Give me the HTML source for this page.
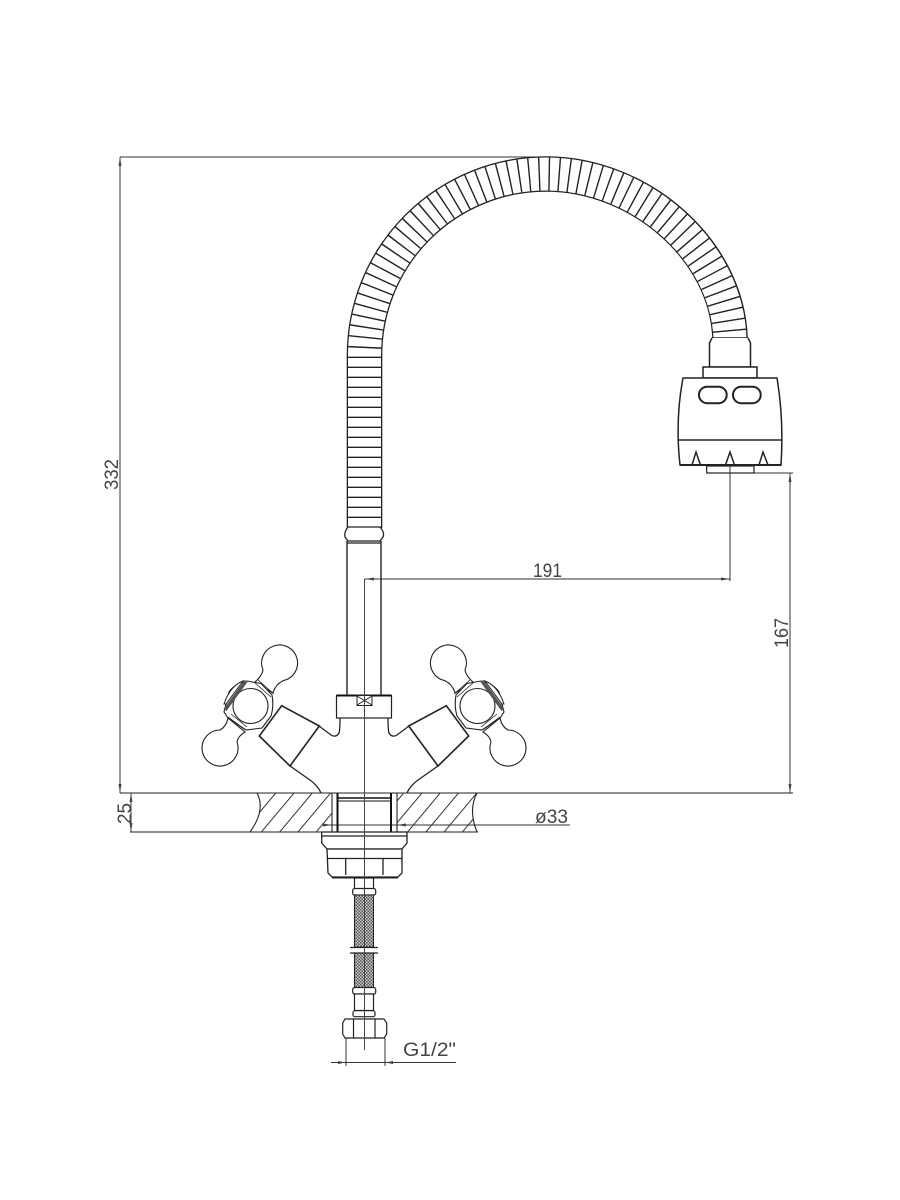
<!DOCTYPE html>
<html>
<head>
<meta charset="utf-8">
<style>
html,body{margin:0;padding:0;background:#fff;}
svg{display:block;}
text{font-family:"Liberation Sans",sans-serif;fill:#444;font-size:19.5px;}
</style>
</head>
<body>
<svg width="900" height="1200" viewBox="0 0 900 1200" xmlns="http://www.w3.org/2000/svg">
<defs>
<pattern id="hatch" patternUnits="userSpaceOnUse" width="14" height="14" patternTransform="rotate(40)">
<line x1="7" y1="0" x2="7" y2="14" stroke="#333" stroke-width="1"/>
</pattern>
<pattern id="braid" patternUnits="userSpaceOnUse" width="3" height="3">
<rect width="3" height="3" fill="#ccc"/>
<rect width="1.5" height="1.5" fill="#555"/>
<rect x="1.5" y="1.5" width="1.5" height="1.5" fill="#555"/>
</pattern>
<g id="handle" fill="#fff" stroke="#222" stroke-width="1.1">
<path d="M255 682 Q262 676 263 670 A18 18 0 1 1 283 680.7 Q276 684 272.7 693 Z"/>
<path d="M228 718 Q226 727 220 730 A18 18 0 1 0 237 742 Q238 736 245 732 Z"/>
<path d="M224 712 L229 692 Q234 684 247 681 L261 683.5 L272 695 Q274 706 271 716 L262 728 L246 730 L228 718 Z"/>
<path d="M258 680 L274 694 M255 683 L271 697 M228 717 L244 729 M231 714 L247 727" fill="none" stroke-width="0.8"/>
<circle cx="250.5" cy="706" r="17.5"/>
<path d="M224 704 Q230 686 243 681 L226 704 Z" stroke-width="1"/>
<line x1="225" y1="710" x2="246" y2="681" stroke="#555" stroke-width="3.6"/>
<path d="M281.7 705.7 L319.3 726 L290 766 L259.3 736 Z" stroke-width="1.6"/>
<path d="M319 726 L331 735 Q336 738 339 733 Q340 730 340 718" fill="none" stroke-width="1.3"/>
<path d="M290 766 L310 780 Q318 786 321 793" fill="none" stroke-width="1.3"/>
</g>
<clipPath id="counterL"><path d="M257 793 Q266 810 250 832 L332 832 L332 793 Z"/></clipPath>
<clipPath id="counterR"><path d="M477 793 Q468 810 477 832 L397 832 L397 793 Z"/></clipPath>
</defs>

<!-- dimension lines -->
<g stroke="#333" stroke-width="1" fill="none">
<line x1="120" y1="157" x2="546" y2="157"/>
<line x1="120" y1="157" x2="120" y2="793"/>
<line x1="120" y1="793" x2="793" y2="793" stroke="#222"/>
<line x1="131" y1="793" x2="131" y2="832"/>
<line x1="130" y1="832" x2="478" y2="832" stroke="#222"/>
<line x1="754" y1="473" x2="793" y2="473"/>
<line x1="790" y1="473" x2="790" y2="793"/>
<line x1="364.5" y1="579" x2="730" y2="579"/>
<line x1="730" y1="466" x2="730" y2="581"/>
<line x1="322" y1="825" x2="570" y2="825"/>
</g>
<g fill="#444" stroke="none">
<path d="M120 157l-1.5 9h3z M120 793l-1.5-9h3z"/>
<path d="M131 793l-1.5 9h3z M131 832l-1.5-9h3z"/>
<path d="M790 473l-1.5 9h3z M790 793l-1.5-9h3z"/>
<path d="M365 579l9-1.5v3z M730 579l-9-1.5v3z"/>
<path d="M332 825l-9-1.5v3z M397 825l9-1.5v3z"/>
</g>

<!-- hose -->
<path d="M364.5 528 V356 A181.5 181.5 0 0 1 546 174 C640 174 727 250 730 338" fill="none" stroke="#222" stroke-width="35.6"/>
<path d="M364.5 529 V356 A181.5 181.5 0 0 1 546 174 C640 174 727 250 730 339" fill="none" stroke="#fff" stroke-width="33"/>
<path d="M364.5 528 V356 A181.5 181.5 0 0 1 546 174 C640 174 727 250 730 338" fill="none" stroke="#222" stroke-width="33.4" stroke-dasharray="1.4 8.6"/>
<line x1="712" y1="338" x2="748" y2="338" stroke="#222" stroke-width="1.4"/>

<!-- collar and tube -->
<path d="M348 527 H380 Q385 533 383 537 L380 541 H348 L345 537 Q344 532 348 527 Z" fill="#fff" stroke="#222" stroke-width="1.3"/>
<line x1="347" y1="543" x2="381" y2="543" stroke="#222" stroke-width="1.3"/>
<line x1="347" y1="541" x2="347" y2="695" stroke="#222" stroke-width="1.4"/>
<line x1="381" y1="541" x2="381" y2="695" stroke="#222" stroke-width="1.4"/>

<!-- aerator -->
<g fill="#fff" stroke="#222" stroke-width="1.5">
<path d="M712 338 L709.5 343 V367 H750.5 V343 L748 338"/>
<rect x="703" y="367" width="54" height="11"/>
<path d="M683 378 H777 Q784 420 781 465 H680 Q675 420 683 378 Z"/>
<line x1="678" y1="440" x2="782" y2="440"/>
<rect x="699" y="386.7" width="27.7" height="16.5" rx="8.2" stroke-width="2"/>
<rect x="733" y="386.7" width="27.7" height="16.5" rx="8.2" stroke-width="2"/>
<path d="M692 465 L696 452 L700.5 465 M725.5 465 L730 452 L734.5 465 M759 465 L763 452 L768 465" fill="none"/>
<line x1="680" y1="465" x2="781" y2="465" stroke-width="2"/>
<rect x="706.7" y="466" width="47.3" height="7" stroke-width="1.2"/>
</g>
<line x1="730" y1="466" x2="730" y2="474" stroke="#333" stroke-width="1"/>

<!-- handles -->
<use href="#handle"/>
<use href="#handle" transform="matrix(-1 0 0 1 728 0)"/>

<!-- base block -->
<rect x="336.5" y="695.5" width="55" height="22.5" fill="#fff" stroke="#222" stroke-width="1.2"/>
<line x1="336.5" y1="695.5" x2="391.5" y2="695.5" stroke="#111" stroke-width="2"/>
<rect x="357" y="695.5" width="15" height="10" fill="#fff" stroke="#222" stroke-width="1"/>
<path d="M357 696 L372 705 M372 696 L357 705" stroke="#222" stroke-width="1"/>

<!-- counter -->
<rect x="250" y="793" width="82" height="39" fill="url(#hatch)" clip-path="url(#counterL)"/>
<rect x="397" y="793" width="80" height="39" fill="url(#hatch)" clip-path="url(#counterR)"/>
<g fill="none" stroke="#222" stroke-width="1.1">
<path d="M257 793 Q266 810 250 832"/>
<path d="M477 793 Q468 810 477 832"/>
<line x1="332" y1="793" x2="332" y2="832"/>
<line x1="397" y1="793" x2="397" y2="832"/>
</g>
<g stroke="#111" fill="none">
<line x1="337.5" y1="793" x2="337.5" y2="832" stroke-width="2"/>
<line x1="391" y1="793" x2="391" y2="832" stroke-width="2"/>
<line x1="338" y1="798" x2="391" y2="798" stroke-width="1.4"/>
<line x1="338" y1="801" x2="391" y2="801" stroke-width="1"/>
</g>

<!-- mounting nut -->
<g fill="#fff" stroke="#222" stroke-width="1.3">
<path d="M321.7 832 H407 V843 L402 849 H327 L321.7 843 Z"/>
<line x1="321.7" y1="836" x2="407" y2="836"/>
<path d="M327 849 H402 V873 L398 877 H332 L328 873 Z"/>
<line x1="328" y1="858.5" x2="402" y2="858.5"/>
<line x1="345.7" y1="858.5" x2="345.7" y2="875"/>
<line x1="383" y1="858.5" x2="383" y2="875"/>
<line x1="332" y1="878" x2="398" y2="878" stroke-width="1"/>
</g>

<!-- supply hose -->
<g fill="#fff" stroke="#222" stroke-width="1.2">
<rect x="354.5" y="878" width="19" height="11"/>
<rect x="352.7" y="888.5" width="23" height="6.5" rx="2"/>
<rect x="354.5" y="895" width="19" height="52" fill="url(#braid)" stroke-width="1"/>
<rect x="354.5" y="953" width="19" height="34.5" fill="url(#braid)" stroke-width="1"/>
<line x1="350" y1="947.5" x2="378" y2="947.5"/>
<line x1="350" y1="953" x2="378" y2="953"/>
<rect x="352.7" y="987.5" width="23" height="6.5" rx="2"/>
<rect x="354.5" y="994" width="19" height="16.5"/>
<rect x="353" y="1010.7" width="22" height="6" rx="2"/>
<path d="M345 1019 H384 L386.7 1023 V1034 L384 1038 H345 L342.7 1034 V1023 Z"/>
<line x1="353.5" y1="1019" x2="353.5" y2="1038"/>
<line x1="375" y1="1019" x2="375" y2="1038"/>
</g>

<!-- centre line -->
<line x1="364.5" y1="579" x2="364.5" y2="1050" stroke="#444" stroke-width="1"/>

<!-- G1/2 dimension -->
<g stroke="#333" stroke-width="1" fill="none">
<line x1="346" y1="1038" x2="346" y2="1066"/>
<line x1="385" y1="1038" x2="385" y2="1066"/>
<line x1="331" y1="1062.5" x2="456" y2="1062.5"/>
</g>
<path d="M346 1062.5l-8-1.5v3z M385 1062.5l8-1.5v3z" fill="#444"/>

<!-- labels -->
<text x="533" y="577" textLength="29" lengthAdjust="spacingAndGlyphs">191</text>
<text x="535" y="823" textLength="33" lengthAdjust="spacingAndGlyphs">ø33</text>
<text x="403" y="1056" textLength="53" lengthAdjust="spacingAndGlyphs">G1/2"</text>
<text transform="translate(118 490) rotate(-90)" textLength="31" lengthAdjust="spacingAndGlyphs">332</text>
<text transform="translate(788 648) rotate(-90)" textLength="30" lengthAdjust="spacingAndGlyphs">167</text>
<text transform="translate(131 824) rotate(-90)" textLength="21" lengthAdjust="spacingAndGlyphs">25</text>
</svg>
</body>
</html>
